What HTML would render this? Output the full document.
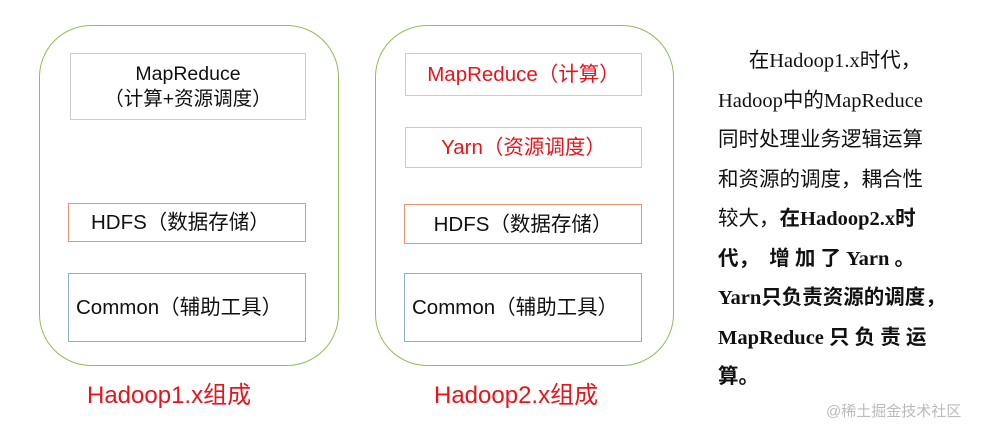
<!DOCTYPE html>
<html><head><meta charset="utf-8"><style>
body{margin:0;width:995px;height:427px;background:#fff;position:relative;overflow:hidden;font-family:"Liberation Sans","Noto Sans CJK SC",sans-serif}
.c{position:absolute;border:1.5px solid #8fbc5f;border-radius:52px;box-sizing:border-box}
.b{position:absolute;box-sizing:border-box;border:1.5px solid;display:flex;align-items:center;justify-content:center;text-align:center;font-size:20.5px;color:#111;line-height:25px;white-space:nowrap}
.l{position:absolute;color:#e8141b;font-size:24px}
.t{position:absolute;left:718px;top:42px;width:240px;font-family:"Liberation Serif","Noto Sans CJK SC",serif;font-size:20.5px;line-height:39.5px;color:#111}
.t div{white-space:nowrap}
</style></head><body>
<div class="c" style="left:39px;top:25px;width:300px;height:341px"></div>
<div class="c" style="left:375px;top:25px;width:299px;height:341px"></div>
<div class="b" style="left:70px;top:53px;width:236px;height:67px;border-color:#ccc;font-size:19.5px">MapReduce<br>（计算+资源调度）</div>
<div class="b" style="left:68px;top:203px;width:238px;height:39px;border-color:#e8956b;justify-content:flex-start;padding-left:22px">HDFS（数据存储）</div>
<div class="b" style="left:68px;top:273px;width:238px;height:69px;border-color:#8eaed6;justify-content:flex-start;padding-left:7px">Common（辅助工具）</div>
<div class="b" style="left:405px;top:53px;width:237px;height:43px;border-color:#ccc;color:#e8141b">MapReduce（计算）</div>
<div class="b" style="left:405px;top:127px;width:237px;height:41px;border-color:#f5d430;color:#e8141b">Yarn（资源调度）</div>
<div class="b" style="left:404px;top:204px;width:238px;height:40px;border-color:#e8956b">HDFS（数据存储）</div>
<div class="b" style="left:404px;top:273px;width:238px;height:69px;border-color:#8eaed6;justify-content:flex-start;padding-left:7px">Common（辅助工具）</div>
<div class="l" style="left:87px;top:375px">Hadoop1.x组成</div>
<div class="l" style="left:434px;top:375px">Hadoop2.x组成</div>
<div class="t">
<div>&emsp;&ensp;在Hadoop1.x时代，</div>
<div>Hadoop中的MapReduce</div>
<div>同时处理业务逻辑运算</div>
<div>和资源的调度，耦合性</div>
<div>较大，<b>在Hadoop2.x时</b></div>
<div><b>代，&ensp;增 加 了 Yarn 。</b></div>
<div><b>Yarn只负责资源的调度，</b></div>
<div><b>MapReduce 只 负 责 运</b></div>
<div><b>算。</b></div>
</div>
<div style="position:absolute;left:826px;top:400px;font-size:15px;color:#bbb">@稀土掘金技术社区</div>
</body></html>
